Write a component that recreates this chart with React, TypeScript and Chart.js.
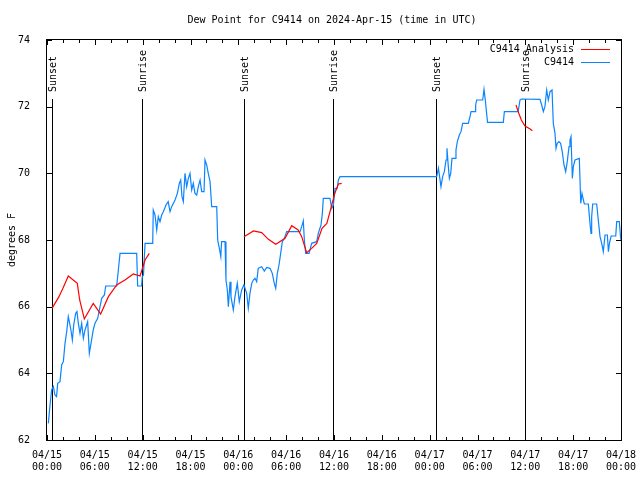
import React, { useEffect, useRef } from "react";
import { Chart, registerables } from "chart.js";

Chart.register(...registerables);

const TITLE = "Dew Point for C9414 on 2024-Apr-15 (time in UTC)";
const Y_TITLE = "degrees F";
const SERIES_ANALYSIS = "C9414 Analysis";
const SERIES_OBS = "C9414";

// x axis: hours since 04/15 00:00 UTC
const X_MIN = 0;
const X_MAX = 72;
const X_TICK_LABELS = [
  ["04/15", "00:00"], ["04/15", "06:00"], ["04/15", "12:00"], ["04/15", "18:00"],
  ["04/16", "00:00"], ["04/16", "06:00"], ["04/16", "12:00"], ["04/16", "18:00"],
  ["04/17", "00:00"], ["04/17", "06:00"], ["04/17", "12:00"], ["04/17", "18:00"],
  ["04/18", "00:00"],
];
const Y_MIN = 62;
const Y_MAX = 74;

const SUN_HOURS = [0.63, 11.92, 24.71, 35.88, 48.8, 59.96];
const SUN_LABELS = ["Sunset", "Sunrise", "Sunset", "Sunrise", "Sunset", "Sunrise"];

const OBS_HOURS = [
  0.17, 0.38, 0.58, 0.8, 1.0, 1.2, 1.34, 1.63, 1.84, 2.05, 2.26, 2.47, 2.67, 2.8, 3.0, 3.18, 3.35, 3.6, 3.76, 3.93,
  4.14, 4.35, 4.56, 4.77, 5.1, 5.31, 5.52, 5.8, 6.02, 6.36, 6.65, 6.86, 7.2, 7.36, 8.74, 8.95, 9.16, 11.25, 11.37, 11.87,
  11.95, 12.1, 12.3, 13.26, 13.33, 13.55, 13.76, 13.96, 14.17, 14.39, 14.59, 14.93, 15.2, 15.43, 15.64, 16.06, 16.35, 16.6, 16.77, 16.93,
  17.1, 17.31, 17.52, 17.73, 17.94, 18.15, 18.35, 18.56, 18.78, 18.98, 19.2, 19.4, 19.7, 19.82, 20.03, 20.23, 20.45, 20.66, 21.29, 21.41,
  21.62, 21.8, 21.9, 22.33, 22.45, 22.62, 22.75, 22.96, 23.08, 23.37, 23.58, 23.87, 24.12, 24.42, 24.7, 25.05, 25.25, 25.46, 25.68, 25.88,
  26.09, 26.3, 26.5, 26.93, 27.26, 27.56, 27.97, 28.26, 28.51, 28.69, 28.89, 29.1, 29.31, 29.52, 29.77, 30.06, 31.74, 31.95, 32.15, 32.28,
  32.45, 32.87, 33.2, 33.83, 34.03, 34.37, 34.54, 34.66, 35.5, 35.71, 35.92, 36.13, 36.4, 36.55, 36.75, 48.88, 49.1, 49.42, 49.63, 49.84,
  50.05, 50.17, 50.34, 50.47, 50.64, 50.8, 51.18, 51.3, 51.47, 51.72, 51.93, 52.14, 52.85, 53.06, 53.19, 53.69, 53.77, 53.9, 54.65, 54.82,
  54.98, 55.1, 55.26, 57.24, 57.37, 59.1, 59.33, 59.5, 61.84, 62.05, 62.26, 62.46, 62.68, 62.88, 63.1, 63.35, 63.51, 63.72, 63.85, 64.0,
  64.22, 64.43, 64.63, 64.85, 65.06, 65.26, 65.48, 65.6, 65.73, 65.9, 66.02, 66.23, 66.77, 66.95, 67.11, 67.28, 67.4, 67.9, 68.11, 68.24,
  68.32, 68.45, 68.95, 69.15, 69.37, 69.58, 69.78, 70.0, 70.29, 70.42, 70.55, 70.76, 71.34, 71.46, 71.79, 71.96, 72.0,
];
const OBS_DEWPOINT = [
  62.5, 63.05, 63.5, 63.6, 63.35, 63.3, 63.7, 63.75, 64.25, 64.35, 64.9, 65.25, 65.7, 65.55, 65.3, 65.0, 65.45, 65.8, 65.85, 65.5,
  65.2, 65.5, 65.05, 65.3, 65.55, 64.6, 64.9, 65.3, 65.5, 65.65, 66.0, 66.25, 66.35, 66.62, 66.62, 67.1, 67.6, 67.6, 66.62, 66.62,
  66.9, 66.95, 67.9, 67.9, 68.9, 68.75, 68.3, 68.7, 68.55, 68.75, 68.85, 69.05, 69.15, 68.85, 69.0, 69.2, 69.4, 69.7, 69.8, 69.3,
  69.15, 70.0, 69.6, 69.85, 70.0, 69.5, 69.7, 69.4, 69.35, 69.6, 69.8, 69.45, 69.45, 70.4, 70.25, 70.0, 69.75, 69.0, 69.0, 68.0,
  67.75, 67.5, 67.95, 67.95, 66.8, 66.5, 66.0, 66.75, 66.3, 65.9, 66.3, 66.7, 66.15, 66.5, 66.65, 66.4, 65.95, 66.4, 66.7, 66.8,
  66.85, 66.75, 67.15, 67.2, 67.07, 67.18, 67.15, 67.0, 66.7, 66.55, 67.0, 67.25, 67.6, 67.95, 68.05, 68.25, 68.25, 68.4, 68.57, 68.0,
  67.6, 67.6, 67.9, 67.95, 68.2, 68.45, 68.8, 69.25, 69.25, 68.95, 69.05, 69.55, 69.55, 69.8, 69.9, 69.9, 70.15, 69.6, 69.9, 70.05,
  70.4, 70.75, 70.2, 69.85, 70.0, 70.45, 70.45, 70.7, 70.95, 71.15, 71.25, 71.5, 71.5, 71.7, 71.85, 71.85, 72.05, 72.2, 72.2, 72.52,
  72.2, 71.9, 71.53, 71.53, 71.85, 71.85, 72.2, 72.23, 72.22, 72.05, 71.85, 72.0, 72.5, 72.2, 72.45, 72.5, 71.5, 71.2, 70.75, 70.9,
  70.95, 70.9, 70.65, 70.25, 70.05, 70.35, 70.8, 71.0, 71.1, 69.85, 70.2, 70.4, 70.45, 69.1, 69.4, 69.2, 69.08, 69.08, 68.5, 68.2,
  68.7, 69.08, 69.08, 68.6, 68.1, 67.9, 67.65, 68.15, 68.15, 67.65, 67.9, 68.12, 68.12, 68.55, 68.55, 68.05, 68.0,
];

// analysis: null marks a gap between runs
const ANALYSIS_HOURS = [
  0.63, 1.5, 2.0, 2.67, 3.8, 4.1, 4.68, 5.8, 6.73, 7.7, 8.74, 9.78, 10.83, 11.67, 12.3, 12.83,
  18.0,
  24.71, 25.9, 26.93, 27.77, 28.7, 29.86, 30.7, 31.5, 31.95, 32.57, 33.2, 33.83, 34.5, 35.1, 35.5, 36.1, 36.55, 36.96,
  48.0,
  58.83, 59.1, 59.5, 59.96, 60.6, 60.88,
];
const ANALYSIS_DEWPOINT = [
  65.95, 66.3, 66.55, 66.92, 66.7, 66.2, 65.63, 66.1, 65.78, 66.3, 66.65, 66.8, 66.98, 66.92, 67.4, 67.6,
  null,
  68.1, 68.27, 68.22, 68.02, 67.87, 68.05, 68.43, 68.3, 68.1, 67.62, 67.75, 67.9, 68.35, 68.5, 68.85, 69.4, 69.68, 69.7,
  null,
  72.05, 71.85, 71.6, 71.42, 71.33, 71.28,
];

const RED = "#ff0000";
const BLUE = "#0a84ff";
const FONT = '10px "DejaVu Sans Mono", monospace';

const framePlugin = {
  id: "gnuplotFrame",
  beforeDatasetsDraw(chart: any) {
    const { ctx, chartArea, scales } = chart;
    const xs = scales.x;
    ctx.save();
    ctx.strokeStyle = "#000";
    ctx.lineWidth = 1;
    ctx.fillStyle = "#000";
    ctx.font = FONT;
    SUN_HOURS.forEach((h, i) => {
      const x = Math.round(xs.getPixelForValue(h)) + 0.5;
      ctx.beginPath();
      ctx.moveTo(x, 99);
      ctx.lineTo(x, chartArea.bottom);
      ctx.stroke();
      ctx.save();
      ctx.translate(x + 1, 92);
      ctx.rotate(-Math.PI / 2);
      ctx.textAlign = "left";
      ctx.textBaseline = "middle";
      ctx.fillText(SUN_LABELS[i], 0, 0);
      ctx.restore();
    });
    ctx.restore();
  },
  afterDraw(chart: any) {
    const { ctx, chartArea, scales } = chart;
    const xs = scales.x;
    const ys = scales.y;
    const L = chartArea.left, R = chartArea.right, T = chartArea.top, B = chartArea.bottom;
    ctx.save();
    ctx.strokeStyle = "#000";
    ctx.lineWidth = 1;
    ctx.strokeRect(Math.round(L) - 0.5, Math.round(T) - 0.5, Math.round(R - L) + 1, Math.round(B - T) + 1);
    ctx.beginPath();
    for (let h = X_MIN; h <= X_MAX; h += 2) {
      const x = Math.round(xs.getPixelForValue(h)) + 0.5;
      const len = h % 6 === 0 ? 5 : 3;
      ctx.moveTo(x, B);
      ctx.lineTo(x, B - len);
      ctx.moveTo(x, T);
      ctx.lineTo(x, T + len);
    }
    for (let v = Y_MIN; v <= Y_MAX; v += 2) {
      const y = Math.round(ys.getPixelForValue(v)) + 0.5;
      ctx.moveTo(L, y);
      ctx.lineTo(L + 5, y);
      ctx.moveTo(R, y);
      ctx.lineTo(R - 5, y);
    }
    ctx.stroke();

    ctx.fillStyle = "#000";
    ctx.font = FONT;
    ctx.textAlign = "center";
    ctx.textBaseline = "middle";
    ctx.fillText(TITLE, 332, 20);

    ctx.save();
    ctx.translate(12, (T + B) / 2);
    ctx.rotate(-Math.PI / 2);
    ctx.fillText(Y_TITLE, 0, 0);
    ctx.restore();

    // legend
    ctx.textAlign = "right";
    const items = [
      { label: SERIES_ANALYSIS, color: RED, y: 49.5 },
      { label: SERIES_OBS, color: BLUE, y: 62.5 },
    ];
    items.forEach((it) => {
      ctx.fillStyle = "#000";
      ctx.fillText(it.label, 574, it.y);
      ctx.strokeStyle = it.color;
      ctx.beginPath();
      ctx.moveTo(581, it.y);
      ctx.lineTo(610, it.y);
      ctx.stroke();
    });
    ctx.restore();
  },
};

export default function App() {
  const ref = useRef<HTMLCanvasElement>(null);
  useEffect(() => {
    if (!ref.current) return;
    Chart.defaults.font.family = '"DejaVu Sans Mono", monospace';
    Chart.defaults.font.size = 10;
    Chart.defaults.color = "#000";
    const obs = OBS_HOURS.map((h, i) => ({ x: h, y: OBS_DEWPOINT[i] }));
    const ana = ANALYSIS_HOURS.map((h, i) => ({ x: h, y: ANALYSIS_DEWPOINT[i] }));
    const chart = new Chart(ref.current, {
      type: "line",
      data: {
        datasets: [
          {
            label: SERIES_ANALYSIS,
            data: ana as any,
            borderColor: RED,
            borderWidth: 1.2,
            pointRadius: 0,
            spanGaps: false,
            tension: 0,
          },
          {
            label: SERIES_OBS,
            data: obs,
            borderColor: BLUE,
            borderWidth: 1.2,
            pointRadius: 0,
            tension: 0,
          },
        ],
      },
      options: {
        responsive: false,
        animation: false,
        layout: { padding: { top: 40, right: 19, left: 0, bottom: 0 } },
        plugins: { legend: { display: false }, tooltip: { enabled: false }, title: { display: false } },
        events: [],
        scales: {
          x: {
            type: "linear",
            min: X_MIN,
            max: X_MAX,
            grid: { display: false },
            border: { display: false },
            ticks: {
              stepSize: 6,
              autoSkip: false,
              maxRotation: 0,
              padding: 1,
              color: "#000",
              font: { family: '"DejaVu Sans Mono", monospace', size: 10, lineHeight: 1.25 },
              callback: (v: any) => {
                const idx = Math.round(Number(v) / 6);
                return X_TICK_LABELS[idx] ?? "";
              },
            },
            afterFit: (s: any) => {
              s.height = 40;
              s.paddingLeft = 0;
              s.paddingRight = 0;
            },
          },
          y: {
            type: "linear",
            min: Y_MIN,
            max: Y_MAX,
            grid: { display: false },
            border: { display: false },
            ticks: {
              stepSize: 2,
              padding: 9,
              color: "#000",
              font: { family: '"DejaVu Sans Mono", monospace', size: 10 },
              callback: (v: any) => String(v),
            },
            afterFit: (s: any) => {
              s.width = 47;
              s.paddingTop = 0;
              s.paddingBottom = 0;
            },
          },
        },
      },
      plugins: [framePlugin],
    });
    return () => chart.destroy();
  }, []);
  return (
    <div style={{ position: "absolute", left: 0, top: 0, width: 640, height: 480, background: "#fff" }}>
      <canvas ref={ref} width={640} height={480} />
    </div>
  );
}
